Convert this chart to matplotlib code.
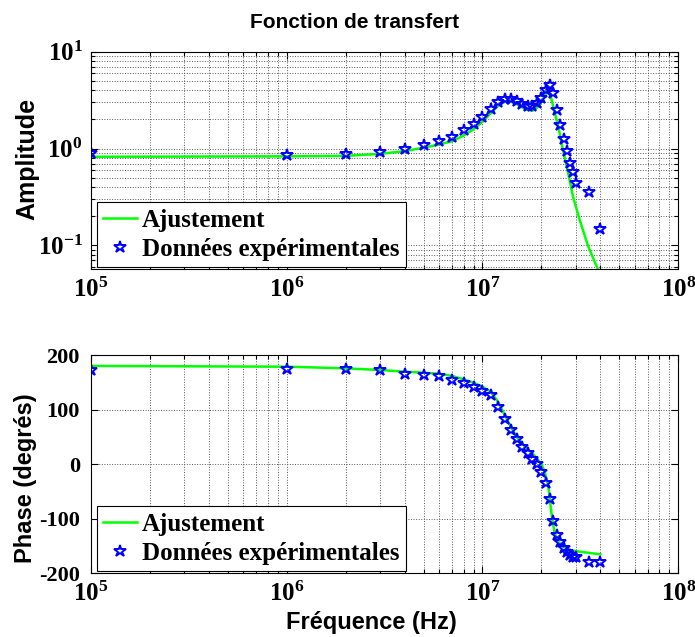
import matplotlib
matplotlib.use('Agg')
import matplotlib.pyplot as plt
from matplotlib.ticker import LogLocator, NullFormatter, FixedLocator

# fréquences mesurées (Hz)
freq_exp = [1e5, 1e6, 2e6, 3e6, 4e6, 5e6, 6e6, 7e6, 8e6, 9e6,
            1.0e7, 1.1e7, 1.2e7, 1.3e7, 1.4e7, 1.5e7, 1.6e7, 1.7e7, 1.8e7, 1.9e7,
            2.0e7, 2.1e7, 2.2e7, 2.3e7, 2.4e7, 2.5e7, 2.6e7, 2.7e7, 2.8e7, 2.9e7,
            3.0e7, 3.5e7, 4.0e7]
amp_exp = [0.89, 0.85, 0.87, 0.91, 1.00, 1.09, 1.20, 1.31, 1.55, 1.79,
           2.10, 2.54, 3.00, 3.27, 3.27, 3.07, 2.88, 2.77, 2.75, 2.97,
           3.35, 3.99, 4.51, 3.79, 2.50, 1.75, 1.245, 0.94, 0.715, 0.575,
           0.436, 0.352, 0.147]
phase_exp = [172.5, 173.8, 173.8, 172.0, 165.8, 162.8, 161.5, 154.2, 148.2, 140.8,
             134.1, 126.2, 104.8, 82.8, 62.6, 45.5, 30.9, 19.9, 9.5, -0.2,
             -14.3, -33.9, -64.3, -104.0, -129.7, -143.1, -154.0, -161.4, -166.3, -169.4,
             -170.5, -178.5, -178.5]

# courbe d'ajustement
freq_fit_a = [1e5, 1e6, 2e6, 3e6, 4e6, 5e6, 6e6, 7e6, 8e6, 9e6,
              1.0e7, 1.1e7, 1.2e7, 1.3e7, 1.4e7, 1.5e7, 1.6e7, 1.7e7, 1.8e7, 1.9e7,
              2.0e7, 2.1e7, 2.18e7, 2.3e7, 2.44e7, 2.58e7, 2.74e7, 2.9e7, 3.14e7, 3.47e7,
              3.9e7, 4.0e7]
amp_fit = [0.822, 0.83, 0.84, 0.88, 0.94, 1.02, 1.10, 1.19, 1.36, 1.58,
           1.89, 2.31, 2.75, 3.04, 3.04, 2.86, 2.64, 2.50, 2.46, 2.64,
           3.04, 3.63, 4.2, 2.7, 1.68, 0.96, 0.555, 0.318, 0.182, 0.097,
           0.0556, 0.05]

freq_fit_p = [1e5, 1e6, 2e6, 3e6, 4e6, 5e6, 6e6, 7e6, 8e6, 9e6,
              1.0e7, 1.1e7, 1.2e7, 1.3e7, 1.4e7, 1.5e7, 1.6e7, 1.7e7, 1.8e7, 1.9e7,
              2.0e7, 2.08e7, 2.17e7, 2.23e7, 2.28e7, 2.34e7, 2.44e7, 2.58e7, 2.79e7, 3.14e7,
              4.0e7]
phase_fit = [180.0, 178.6, 175.6, 172.5, 169.5, 167.6, 165.8, 161.5, 155.5, 149.3,
             142.0, 132.8, 114.5, 90.0, 67.6, 49.3, 37.0, 27.8, 20.0, 10.0,
             0.0, -13.7, -41.0, -78.0, -105.0, -126.6, -142.0, -151.0, -157.0, -160.2,
             -165.0]

plt.rcParams['font.family'] = 'Liberation Serif'
plt.rcParams['font.weight'] = 'bold'
plt.rcParams['mathtext.default'] = 'regular'
plt.rcParams['axes.unicode_minus'] = False

SANS = dict(family='Liberation Sans', weight='bold')
GRID = dict(color='0.35', linestyle=':', linewidth=0.7)

fig = plt.figure(figsize=(6.95, 6.37), dpi=100)
ax1 = fig.add_axes([0.1309, 0.5772, 0.845, 0.3416])
ax2 = fig.add_axes([0.1309, 0.0998, 0.845, 0.3429])

ax1.loglog(freq_fit_a, amp_fit, color='#00ff00', lw=1.8, label='Ajustement')
ax1.loglog(freq_exp, amp_exp, ls='none', marker='*', ms=9, mfc='none', mec='b', mew=1.4,
           label='Données expérimentales')
ax1.set_xlim(1e5, 1e8)
ax1.set_ylim(0.0565, 10)

ax2.semilogx(freq_fit_p, phase_fit, color='#00ff00', lw=1.8, label='Ajustement')
ax2.semilogx(freq_exp, phase_exp, ls='none', marker='*', ms=9, mfc='none', mec='b', mew=1.4,
             label='Données expérimentales')
ax2.set_xlim(1e5, 1e8)
ax2.set_ylim(-200, 200)
ax2.yaxis.set_major_locator(FixedLocator([-200, -100, 0, 100, 200]))

for ax in (ax1, ax2):
    ax.xaxis.set_minor_locator(LogLocator(base=10, subs=range(2, 10), numticks=20))
    ax.xaxis.set_minor_formatter(NullFormatter())
    ax.grid(True, which='both', axis='x', **GRID)
    ax.tick_params(which='both', direction='in', top=True, right=True, labelsize=18, width=0.8)
    ax.tick_params(which='major', length=5, pad=6)
    ax.tick_params(which='minor', length=3)
    for s in ax.spines.values():
        s.set_linewidth(0.8)
    leg = ax.legend(loc='lower left', bbox_to_anchor=(0.0102, 0.0106), borderaxespad=0,
                    fancybox=False, edgecolor='k', framealpha=1, numpoints=1,
                    prop=dict(family='Liberation Serif', weight='bold', size=18),
                    handlelength=1.35, handletextpad=0.2, borderpad=0.25, labelspacing=0.25)
    leg.get_frame().set_linewidth(0.8)

ax2.tick_params(axis='y', labelsize=16, pad=8)

ax1.yaxis.set_minor_locator(LogLocator(base=10, subs=range(2, 10), numticks=20))
ax1.yaxis.set_minor_formatter(NullFormatter())
ax1.grid(True, which='both', axis='y', **GRID)
ax2.grid(True, which='major', axis='y', **GRID)

fig.text(0.51, 0.965, 'Fonction de transfert', ha='center', va='center', fontsize=15, **SANS)
fig.text(0.040, 0.75, 'Amplitude', ha='center', va='center', rotation=90, fontsize=18, **SANS)
fig.text(0.036, 0.25, 'Phase (degrés)', ha='center', va='center', rotation=90, fontsize=17, **SANS)
fig.text(0.535, 0.022, 'Fréquence (Hz)', ha='center', va='center', fontsize=17, **SANS)

fig.savefig('out.png', dpi=100)
